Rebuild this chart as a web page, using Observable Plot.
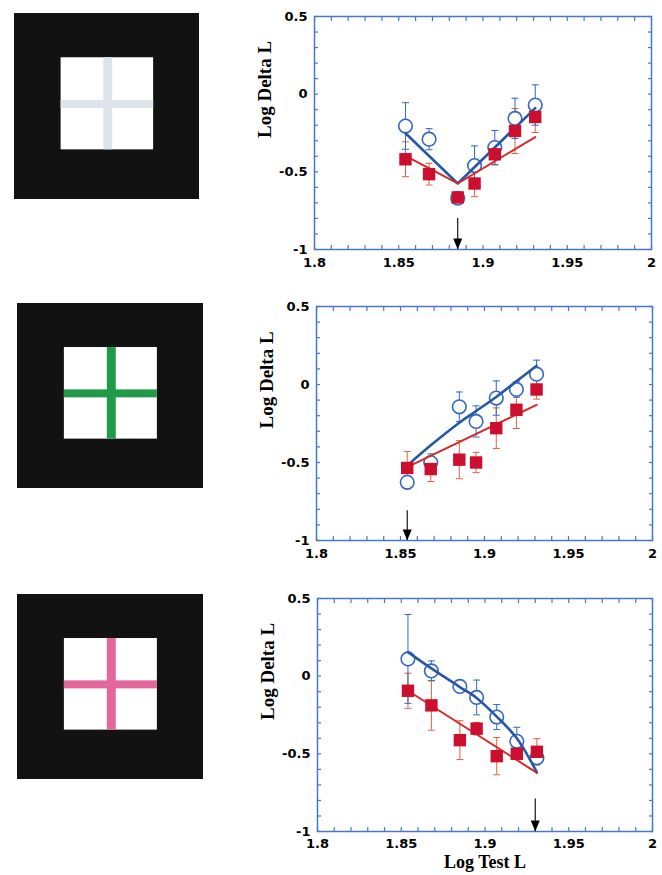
<!DOCTYPE html>
<html>
<head>
<meta charset="utf-8">
<script src="https://cdn.jsdelivr.net/npm/d3@7"></script>
<script src="https://cdn.jsdelivr.net/npm/@observablehq/plot@0.6"></script>
<style>
  body { margin: 0; background: #fff; width: 662px; height: 875px; position: relative; overflow: hidden; }
  .cell { position: absolute; }
  .cell svg { display: block; }
</style>
</head>
<body>
<script>
// Test luminance (log) at which each threshold was measured
const testL = [1.854, 1.868, 1.885, 1.895, 1.907, 1.919, 1.931];

// Axis tick labels
const xTickLabels = [1.8, 1.85, 1.9, 1.95, 2];
const yTickLabels = [-1, -0.5, 0, 0.5];

// Cross colour of each stimulus (top, middle, bottom)
const crossColors = ["#dbe5ea", "#1f9a48", "#e3679d"];

// Condition 1 (grey cross)
const blue1 = [-0.205, -0.29, -0.67, -0.46, -0.344, -0.156, -0.07];
const blueErr1 = [0.15, 0.068, 0.03, 0.127, 0.11, 0.13, 0.13];
const red1 = [-0.419, -0.515, -0.665, -0.575, -0.387, -0.237, -0.147];
const redErr1 = [0.112, 0.07, 0.03, 0.085, 0.068, 0.145, 0.1];
const blueFitX1 = [1.854, 1.885, 1.931];
const blueFit1 = [-0.252, -0.575, -0.09];
const redFitX1 = [1.854, 1.885, 1.931];
const redFit1 = [-0.397, -0.575, -0.276];
const arrowX1 = 1.885, arrowTop1 = -0.8;

// Condition 2 (green cross)
const blue2 = [-0.627, -0.5, -0.143, -0.237, -0.087, -0.032, 0.066];
const blueErr2 = [0.04, 0.055, 0.095, 0.1, 0.11, 0.05, 0.09];
const red2 = [-0.535, -0.542, -0.482, -0.5, -0.28, -0.162, -0.032];
const redErr2 = [0.105, 0.08, 0.122, 0.065, 0.13, 0.12, 0.062];
const blueFitX2 = testL;
const blueFit2 = [-0.52, -0.39, -0.245, -0.17, -0.08, 0.02, 0.12];
const redFitX2 = [1.854, 1.931];
const redFit2 = [-0.53, -0.13];
const arrowX2 = 1.854, arrowTop2 = -0.81;

// Condition 3 (pink cross)
const blue3 = [0.111, 0.034, -0.066, -0.137, -0.263, -0.419, -0.526];
const blueErr3 = [0.286, 0.064, 0.03, 0.112, 0.08, 0.09, 0.03];
const red3 = [-0.094, -0.188, -0.412, -0.338, -0.515, -0.5, -0.487];
const redErr3 = [0.113, 0.16, 0.125, 0.04, 0.12, 0.03, 0.085];
const blueFitX3 = testL;
const blueFit3 = [0.155, 0.05, -0.07, -0.14, -0.26, -0.4, -0.62];
const redFitX3 = [1.854, 1.931];
const redFit3 = [-0.094, -0.622];
const arrowX3 = 1.93, arrowTop3 = -0.79;

const frameBlue = "#4a78c8";
const circleBlue = "#3467c0";
const lineBlue = "#2857a8";
const squareRed = "#cc0f2e";
const lineRed = "#d42a2a";
const errRed = "#e5603c";

const table = (xs, ys, es) => xs.map((x, i) => ({x, y: ys[i], e: es ? es[i] : 0}));

// Horizontal cap drawn at the end of each error bar
const capSymbol = {draw(ctx) { ctx.moveTo(-3.5, 0); ctx.lineTo(3.5, 0); }};
// Filled arrow head whose tip sits on the anchor point
const headSymbol = {draw(ctx) { ctx.moveTo(-4.5, -11); ctx.lineTo(4.5, -11); ctx.lineTo(0, 0); ctx.closePath(); }};

function place(node, left, top) {
  const div = document.createElement("div");
  div.className = "cell";
  div.style.left = left + "px";
  div.style.top = top + "px";
  div.appendChild(node);
  document.body.appendChild(div);
}

// Stimulus: black surround, white test square and a coloured cross
function stimulus(color, w, h) {
  return Plot.plot({
    width: w, height: h, margin: 0,
    x: {domain: [0, 1], axis: null},
    y: {domain: [0, 1], axis: null, reverse: true},
    style: {background: "transparent"},
    marks: [
      Plot.rect([0], {x1: 0, x2: 1, y1: 0, y2: 1, fill: "#121212"}),
      Plot.rect([0], {x1: 0.252, x2: 0.752, y1: 0.238, y2: 0.733, fill: "#ffffff"}),
      Plot.rect([0], {x1: 0.483, x2: 0.531, y1: 0.238, y2: 0.733, fill: color}),
      Plot.rect([0], {x1: 0.252, x2: 0.752, y1: 0.467, y2: 0.51, fill: color})
    ]
  });
}

function chart(p) {
  const minorX = d3.range(180, 201).map(i => i / 100);
  const minorY = d3.range(-10, 6).map(i => i / 10);
  const blue = table(testL, p.blue, p.blueErr);
  const red = table(testL, p.red, p.redErr);
  const tickOpts = {tickSize: -4, tickFormat: () => "", stroke: frameBlue, strokeWidth: 1.2, label: null};
  const labelFont = {fontFamily: "DejaVu Sans", fontWeight: "bold", fontSize: 13, fill: "black"};
  const titleFont = {fontFamily: "Liberation Serif, Times New Roman, serif", fontWeight: "bold", fontSize: 19, fill: "black"};
  const marks = [
    Plot.axisX(minorX, {anchor: "bottom", ...tickOpts}),
    Plot.axisX(minorX, {anchor: "top", ...tickOpts}),
    Plot.axisY(minorY, {anchor: "left", ...tickOpts}),
    Plot.axisY(minorY, {anchor: "right", ...tickOpts}),
    Plot.axisX(xTickLabels, {anchor: "bottom", tickSize: 0, tickPadding: p.xPad, tickFormat: d => String(d), label: null, ...labelFont}),
    Plot.axisY(yTickLabels, {anchor: "left", tickSize: 0, tickPadding: 7, tickFormat: d => String(d), label: null, ...labelFont}),
    Plot.frame({stroke: frameBlue, strokeWidth: 1.5}),
    Plot.text(["Log Delta L"], {frameAnchor: "left", text: d => d, rotate: -90, dx: -50, dy: 5, ...titleFont}),
    // error bars
    Plot.ruleX(red, {x: "x", y1: d => d.y - d.e, y2: d => d.y + d.e, stroke: errRed, strokeWidth: 1}),
    Plot.dot(red, {x: "x", y: d => d.y + d.e, symbol: capSymbol, stroke: errRed, strokeWidth: 1, fill: "none", r: 3}),
    Plot.dot(red, {x: "x", y: d => d.y - d.e, symbol: capSymbol, stroke: errRed, strokeWidth: 1, fill: "none", r: 3}),
    Plot.ruleX(blue, {x: "x", y1: d => d.y - d.e, y2: d => d.y + d.e, stroke: circleBlue, strokeWidth: 1}),
    Plot.dot(blue, {x: "x", y: d => d.y + d.e, symbol: capSymbol, stroke: circleBlue, strokeWidth: 1, fill: "none", r: 3}),
    Plot.dot(blue, {x: "x", y: d => d.y - d.e, symbol: capSymbol, stroke: circleBlue, strokeWidth: 1, fill: "none", r: 3}),
    // observers' thresholds
    Plot.dot(blue, {x: "x", y: "y", r: 6.8, fill: "white", stroke: circleBlue, strokeWidth: 1.6}),
    // model fits
    Plot.line(table(p.blueFitX, p.blueFit), {x: "x", y: "y", stroke: lineBlue, strokeWidth: 2.6, curve: p.curve}),
    Plot.line(table(p.redFitX, p.redFit), {x: "x", y: "y", stroke: lineRed, strokeWidth: 2}),
    Plot.dot(red, {x: "x", y: "y", r: 7, symbol: "square", fill: squareRed}),
    // adapting luminance marker
    Plot.ruleX([p.arrowX], {x: d => d, y1: p.arrowTop, y2: -1, stroke: "black", strokeWidth: 1.1}),
    Plot.dot([p.arrowX], {x: d => d, y: -1, symbol: headSymbol, fill: "black", r: 3})
  ];
  if (p.xTitle) {
    marks.push(Plot.text([p.xTitle], {frameAnchor: "bottom", text: d => d, dy: 36, ...titleFont, fontSize: 18}));
  }
  return Plot.plot({
    width: p.width, height: p.height,
    marginLeft: 74, marginRight: p.marginRight, marginTop: 15, marginBottom: p.marginBottom,
    x: {domain: [1.8, 2], label: null},
    y: {domain: [-1, 0.5], label: null},
    style: {background: "transparent", overflow: "visible", color: "black"},
    marks
  });
}

place(stimulus(crossColors[0], 185, 186), 14, 13);
place(stimulus(crossColors[1], 186, 185), 17, 303);
place(stimulus(crossColors[2], 186, 185), 17, 594);

place(chart({blue: blue1, blueErr: blueErr1, red: red1, redErr: redErr1,
  blueFitX: blueFitX1, blueFit: blueFit1, redFitX: redFitX1, redFit: redFit1,
  arrowX: arrowX1, arrowTop: arrowTop1, curve: "linear", xPad: 8,
  width: 422, height: 288, marginRight: 11, marginBottom: 40}), 240, 1);

place(chart({blue: blue2, blueErr: blueErr2, red: red2, redErr: redErr2,
  blueFitX: blueFitX2, blueFit: blueFit2, redFitX: redFitX2, redFit: redFit2,
  arrowX: arrowX2, arrowTop: arrowTop2, curve: "catmull-rom", xPad: 8,
  width: 420, height: 289, marginRight: 10, marginBottom: 40}), 242, 291);

place(chart({blue: blue3, blueErr: blueErr3, red: red3, redErr: redErr3,
  blueFitX: blueFitX3, blueFit: blueFit3, redFitX: redFitX3, redFit: redFit3,
  arrowX: arrowX3, arrowTop: arrowTop3, curve: "catmull-rom", xTitle: "Log Test L", xPad: 7,
  width: 419, height: 292, marginRight: 10, marginBottom: 44}), 243, 583);
</script>
</body>
</html>
